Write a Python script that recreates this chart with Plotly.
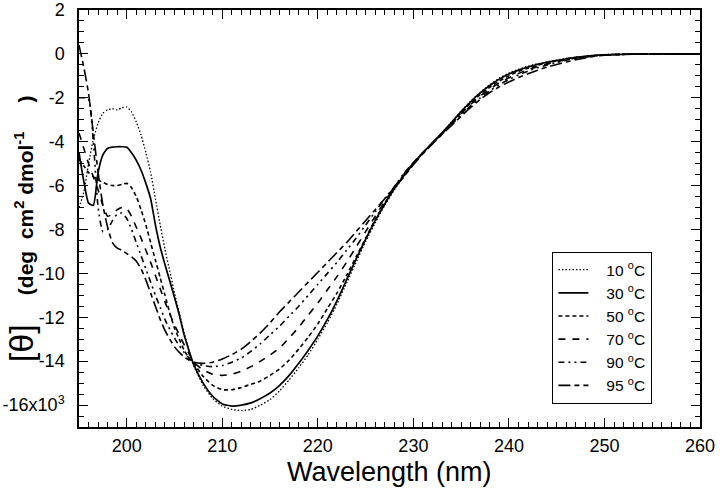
import plotly.graph_objects as go

wavelength = [195, 195.5, 196, 196.5, 197, 197.5, 198, 198.5, 199, 199.5, 200, 200.5,
              201, 201.5, 202, 202.5, 203, 203.5, 204, 204.5, 205, 205.5, 206, 206.5, 207,
              208, 209, 210, 211, 212, 213, 214, 215, 216, 217, 218, 219, 220, 221, 222,
              223, 224, 225, 226, 227, 228, 229, 230, 231, 232,
              233, 234, 235, 236, 237, 238, 239, 240, 241, 242, 243, 244, 245, 246, 247,
              248, 249, 250, 252, 254, 256, 258, 260]

t10 = [-7.0, -6.3, -5.0, -3.9, -3.15, -2.7, -2.55, -2.5, -2.55, -2.45, -2.42, -2.65,
       -3.1, -3.7, -4.5, -5.4, -6.6, -7.8, -8.9, -9.9, -10.9, -11.8, -12.7, -13.5, -14.2,
       -15.1, -15.7, -16.05, -16.2, -16.25, -16.2, -16.0, -15.75, -15.35, -14.85, -14.3,
       -13.7, -13.0, -12.25, -11.4, -10.45, -9.5, -8.55, -7.7, -6.9, -6.2, -5.58, -5.02,
       -4.52, -4.05,
       -3.6, -3.1, -2.6, -2.15, -1.75, -1.4, -1.1, -0.87, -0.7, -0.56, -0.45, -0.36,
       -0.28, -0.21, -0.15, -0.1, -0.06, -0.03, -0.01, 0, 0, 0, 0]

t30 = [-4.5, -5.8, -6.8, -6.9, -5.4, -4.6, -4.3, -4.25, -4.23, -4.23, -4.25, -4.5,
       -4.85, -5.3, -5.9, -6.6, -7.8, -8.8, -9.6, -10.35, -11.1, -11.9, -12.8, -13.5, -14.15,
       -15.0, -15.6, -15.95, -16.05, -16.0, -15.9, -15.7, -15.45, -15.1, -14.65, -14.1,
       -13.5, -12.85, -12.1, -11.25, -10.3, -9.35, -8.45, -7.6, -6.85, -6.15, -5.55, -5.0,
       -4.5, -4.05,
       -3.6, -3.12, -2.63, -2.18, -1.78, -1.44, -1.15, -0.92, -0.74, -0.6, -0.48, -0.38,
       -0.3, -0.22, -0.16, -0.11, -0.07, -0.04, -0.02, -0.01, 0, 0, 0]

t50 = [-4.8, -5.1, -5.4, -5.6, -5.75, -5.85, -5.95, -6.0, -6.0, -5.95, -5.9, -6.1,
       -6.5, -7.1, -7.8, -8.6, -9.4, -10.2, -11.0, -11.8, -12.5, -13.0, -13.5, -13.85, -14.1,
       -14.7, -15.1, -15.3, -15.3, -15.2, -15.05, -14.9, -14.65, -14.35, -13.95, -13.45,
       -12.9, -12.3, -11.6, -10.9, -10.1, -9.25, -8.4, -7.55, -6.8, -6.1, -5.5, -4.98,
       -4.5, -4.05,
       -3.62, -3.15, -2.68, -2.24, -1.85, -1.52, -1.23, -1.0, -0.8, -0.65, -0.52, -0.41,
       -0.32, -0.24, -0.17, -0.12, -0.08, -0.05, -0.02, -0.01, 0, 0, 0]

t70 = [-3.6, -4.3, -5.0, -5.6, -6.2, -6.9, -7.4, -7.3, -7.1, -7.0, -7.05, -7.4,
       -7.9, -8.4, -8.95, -9.5, -10.1, -10.7, -11.3, -11.85, -12.35, -12.8, -13.25, -13.65, -14.05,
       -14.4, -14.6, -14.65, -14.6, -14.45, -14.25, -14.0, -13.72, -13.4, -12.95, -12.45,
       -11.9, -11.35, -10.75, -10.15, -9.5, -8.8, -8.1, -7.4, -6.72, -6.08, -5.48, -4.96,
       -4.5, -4.05,
       -3.63, -3.18, -2.72, -2.3, -1.92, -1.6, -1.32, -1.09, -0.89, -0.72, -0.58, -0.46,
       -0.36, -0.27, -0.19, -0.13, -0.08, -0.05, -0.02, -0.01, 0, 0, 0]

t90 = [-2.0, -2.0, -2.05, -4.0, -7.0, -8.1, -8.0, -7.6, -7.3, -7.25, -7.5, -8.0,
       -8.6, -9.2, -9.8, -10.4, -11.0, -11.55, -12.1, -12.55, -12.95, -13.3, -13.6, -13.85, -14.05,
       -14.2, -14.25, -14.2, -14.05, -13.85, -13.55, -13.2, -12.8, -12.4, -11.95, -11.5,
       -11.0, -10.5, -10.0, -9.5, -8.95, -8.4, -7.8, -7.2, -6.6, -6.05, -5.45, -4.95,
       -4.5, -4.05,
       -3.65, -3.22, -2.78, -2.37, -2.0, -1.68, -1.4, -1.17, -0.96, -0.78, -0.63, -0.5,
       -0.39, -0.29, -0.21, -0.14, -0.09, -0.05, -0.02, -0.01, 0, 0, 0]

t95 = [0.4, -0.6, -1.8, -3.6, -5.4, -6.9, -7.9, -8.6, -8.85, -8.95, -9.1, -9.25,
       -9.45, -9.8, -10.3, -10.9, -11.5, -12.1, -12.6, -13.0, -13.35, -13.6, -13.8, -13.95, -14.05,
       -14.1, -14.05, -13.9, -13.7, -13.45, -13.1, -12.7, -12.25, -11.75, -11.3, -10.85,
       -10.4, -9.95, -9.5, -9.05, -8.6, -8.1, -7.6, -7.1, -6.6, -6.1, -5.6, -5.05,
       -4.55, -4.1,
       -3.67, -3.26, -2.84, -2.44, -2.07, -1.76, -1.5, -1.28, -1.08, -0.9, -0.74, -0.6,
       -0.48, -0.37, -0.27, -0.18, -0.11, -0.06, -0.02, -0.01, 0, 0, 0]

series_names = ["10", "30", "50", "70", "90", "95"]
series_values = [t10, t30, t50, t70, t90, t95]
dashes = ["1.5px,2px", "solid", "4px,3px", "7px,7px", "6px,4px,2px,4px,2px,4px", "12px,4px,5px,4px"]
widths = [1.3, 1.7, 1.6, 1.6, 1.6, 1.6]

xticks = [200, 210, 220, 230, 240, 250, 260]
yticks = [2, 0, -2, -4, -6, -8, -10, -12, -14, -16]
yticklabels = ["2", "0", "-2", "-4", "-6", "-8", "-10", "-12", "-14", "-16x10<sup>3</sup>"]

FONT = "Liberation Sans, Arial, sans-serif"
NB = "\u00a0"

fig = go.Figure()
for name, vals, dsh, w in zip(series_names, series_values, dashes, widths):
    fig.add_trace(go.Scatter(
        x=wavelength, y=vals, mode="lines",
        name=NB * 3 + name + " <sup>o</sup>C",
        line=dict(color="black", width=w, dash=dsh, shape="spline", smoothing=0.5),
    ))

axis_common = dict(
    showline=True, linecolor="black", linewidth=1.5, mirror="ticks",
    ticks="inside", ticklen=9, tickwidth=1.2, tickcolor="black",
    showgrid=False, zeroline=False, automargin=False,
    tickfont=dict(family=FONT, size=18, color="black"),
)

fig.update_xaxes(
    range=[195, 260], tickvals=xticks, ticklabelstandoff=2,
    minor=dict(dtick=1, ticks="inside", ticklen=5, tickwidth=1, tickcolor="black", showgrid=False),
    **axis_common,
)
fig.update_yaxes(
    range=[-17, 2], tickvals=yticks, ticktext=yticklabels, ticklabelstandoff=9,
    minor=dict(dtick=0.5, ticks="inside", ticklen=5, tickwidth=1, tickcolor="black", showgrid=False),
    **axis_common,
)

fig.add_annotation(
    text="Wavelength (nm)", xref="paper", yref="paper", x=0.5, y=-0.107,
    xanchor="center", yanchor="middle", showarrow=False,
    font=dict(family=FONT, size=27, color="black"),
)
ytitle = ("<span style='font-size:34px'>[θ]</span>" + NB * 5 +
          "<b>(deg" + NB * 2 + "cm<sup>2</sup>" + NB + "dmol<sup>-1</sup>" + NB * 5 + ")</b>")
fig.add_annotation(
    text=ytitle,
    xref="paper", yref="paper", x=-0.093, y=0.475,
    xanchor="center", yanchor="middle", showarrow=False, textangle=-90,
    font=dict(family=FONT, size=21, color="black"),
)

fig.update_layout(
    width=720, height=498,
    margin=dict(l=79, r=20, t=10, b=71, autoexpand=False),
    paper_bgcolor="white", plot_bgcolor="white",
    font=dict(family=FONT, color="black"),
    showlegend=True,
    legend=dict(
        x=0.762, y=0.42, xanchor="left", yanchor="top",
        bordercolor="black", borderwidth=1.2, bgcolor="white",
        font=dict(family=FONT, size=15.5, color="black"),
        itemwidth=30,
    ),
)

fig.write_html("out.html", config={"displayModeBar": False},
               post_script="document.body.style.margin='0';")
